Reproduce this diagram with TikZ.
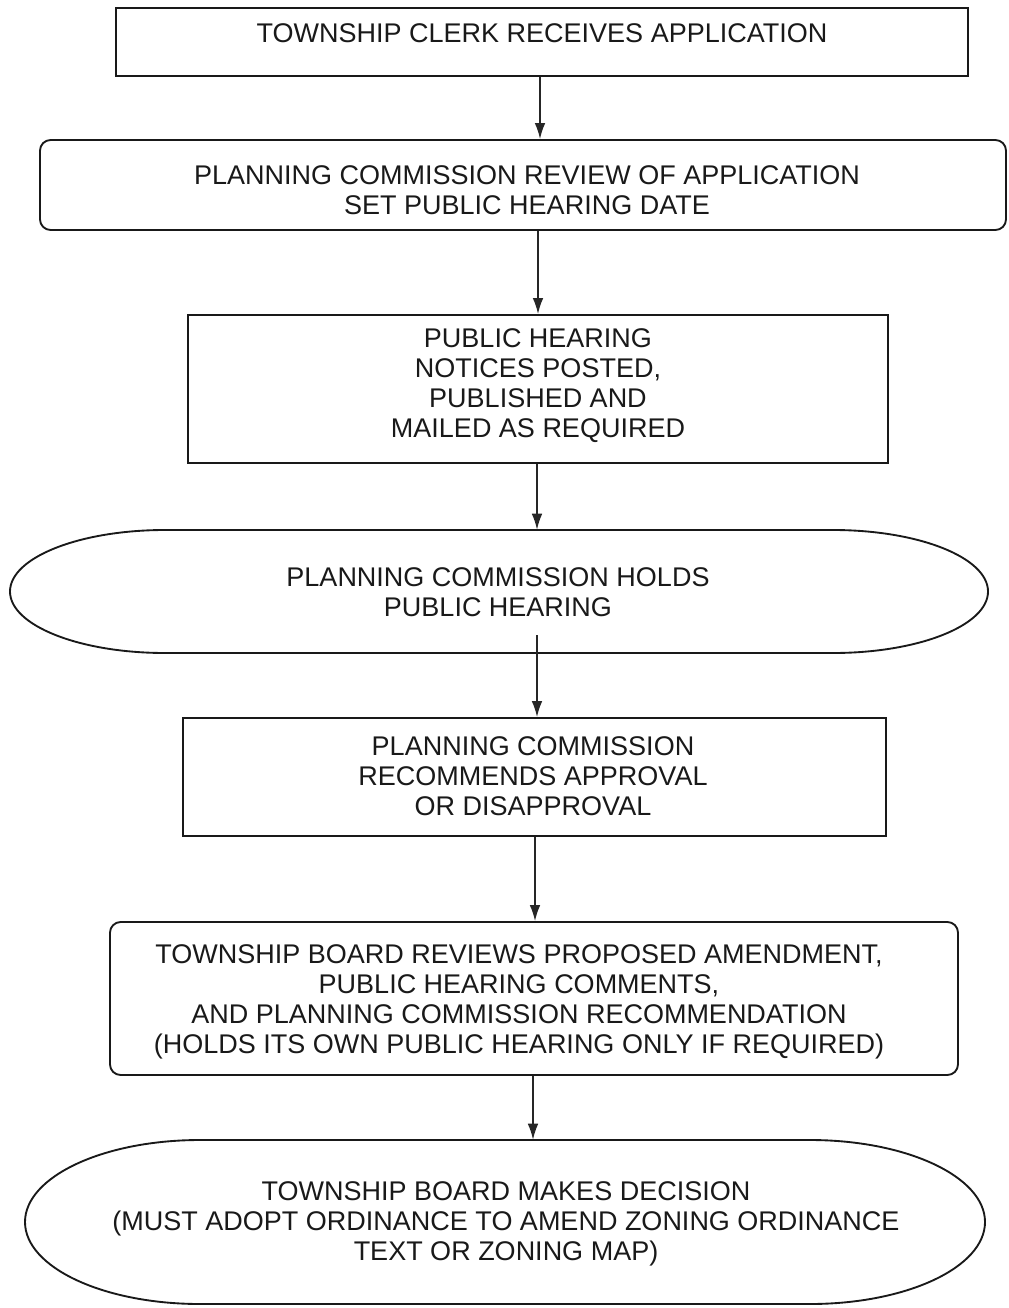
\documentclass[tikz,border=0pt]{standalone}
\usepackage{fontspec}
\setmainfont{Liberation Sans}
\usetikzlibrary{arrows.meta}
\newlength\upx \setlength\upx{0.75pt}
\begin{document}
\begin{tikzpicture}[x=0.75pt,y=-0.75pt,
  shapeline/.style={draw=black!90, line width=1.4pt},
  plainbox/.style={shapeline, rectangle, inner sep=0pt},
  roundbox/.style={plainbox, rounded corners=8pt},
  ghost/.style={rectangle, inner sep=0pt},
  txt/.style={font=\fontsize{20.25}{22.5}\selectfont, align=center, inner sep=0pt, text=black!90},
  flow/.style={line width=1.2pt, draw=black!85, -{Latex[length=12pt,width=8pt]}}]
\useasboundingbox (0,0) rectangle (1008,1308);

% box 1
\node[plainbox, minimum width=852\upx, minimum height=68\upx] (b1) at (542,42) {};
\node[txt] (t1) at (542,33) {TOWNSHIP CLERK RECEIVES APPLICATION};

% box 2
\node[roundbox, minimum width=966\upx, minimum height=90\upx] (b2) at (523,185) {};
\node[txt] (t2) at (527,190) {PLANNING COMMISSION REVIEW OF APPLICATION\\SET PUBLIC HEARING DATE};

% box 3
\node[plainbox, minimum width=700\upx, minimum height=148\upx] (b3) at (538,389) {};
\node[txt] (t3) at (538,386) {PUBLIC HEARING\\NOTICES POSTED,\\PUBLISHED AND\\MAILED AS REQUIRED};

% stadium 4
\node[ghost, minimum width=978\upx, minimum height=123\upx] (b4) at (499,591.5) {};
\draw[shapeline] (165,530) -- (833,530)
  arc[start angle=90, end angle=-90, x radius=155\upx, y radius=61.5\upx]
  -- (165,653)
  arc[start angle=270, end angle=90, x radius=155\upx, y radius=61.5\upx] -- cycle;
\node[txt] (t4) at (498,592) {PLANNING COMMISSION HOLDS\\PUBLIC HEARING};

% box 5
\node[plainbox, minimum width=703\upx, minimum height=118\upx] (b5) at (534.5,777) {};
\node[txt] (t5) at (533,776) {PLANNING COMMISSION\\RECOMMENDS APPROVAL\\OR DISAPPROVAL};

% box 6
\node[roundbox, minimum width=848\upx, minimum height=153\upx] (b6) at (534,998.5) {};
\node[txt] (t6) at (519,1002) {TOWNSHIP BOARD REVIEWS PROPOSED AMENDMENT,\\PUBLIC HEARING COMMENTS,\\AND PLANNING COMMISSION RECOMMENDATION\\(HOLDS ITS OWN PUBLIC HEARING ONLY IF REQUIRED)};

% stadium 7
\node[ghost, minimum width=960\upx, minimum height=164\upx] (b7) at (505,1222) {};
\draw[shapeline] (200,1140) -- (810,1140)
  arc[start angle=90, end angle=-90, x radius=175\upx, y radius=82\upx]
  -- (200,1304)
  arc[start angle=270, end angle=90, x radius=175\upx, y radius=82\upx] -- cycle;
\node[txt] (t7) at (506,1224) {TOWNSHIP BOARD MAKES DECISION\\(MUST ADOPT ORDINANCE TO AMEND ZONING ORDINANCE\\TEXT OR ZONING MAP)};

% connector x positions
\coordinate (x1) at (540,0);
\coordinate (x2) at (538,0);
\coordinate (x3) at (537,0);
\coordinate (s4) at (537,635);
\coordinate (x5) at (535,0);
\coordinate (x6) at (533,0);

\draw[flow] (b1.south -| x1) -- (b2.north -| x1);
\draw[flow] (b2.south -| x2) -- (b3.north -| x2);
\draw[flow] (b3.south -| x3) -- (b4.north -| x3);
\draw[flow] (s4) -- (b5.north -| s4);
\draw[flow] (b5.south -| x5) -- (b6.north -| x5);
\draw[flow] (b6.south -| x6) -- (b7.north -| x6);
\end{tikzpicture}
\end{document}
